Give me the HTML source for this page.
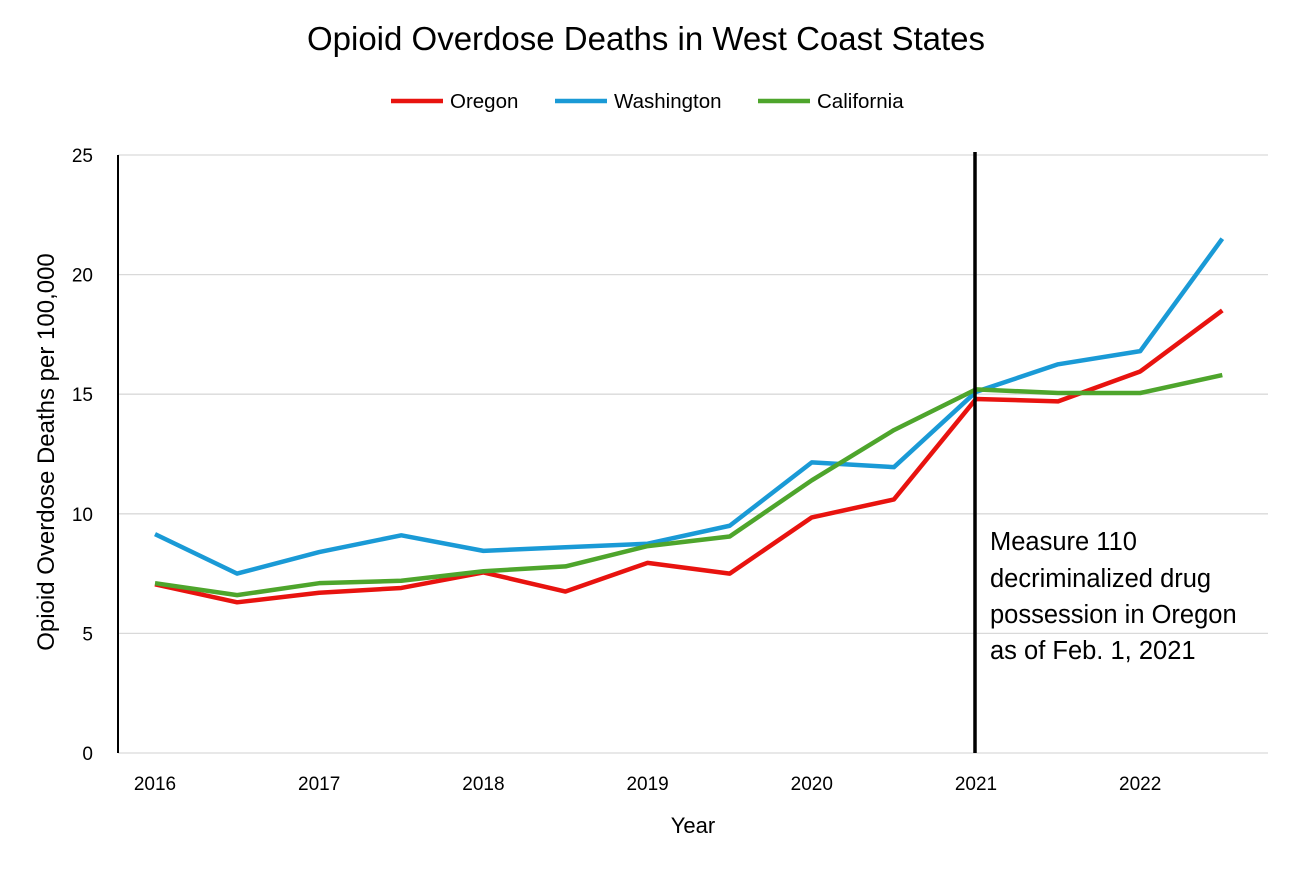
<!DOCTYPE html>
<html><head><meta charset="utf-8"><style>
body{margin:0;background:#fff;font-family:"Liberation Sans",sans-serif;}
</style></head><body>
<svg width="1294" height="868" xmlns="http://www.w3.org/2000/svg" font-family="Liberation Sans, sans-serif">
<text x="646" y="50" text-anchor="middle" font-size="33" fill="#000">Opioid Overdose Deaths in West Coast States</text>
<g id="legend"></g>
<g id="grid"></g>
<g id="series"></g>
<line x1="118" y1="155" x2="118" y2="753" stroke="#000" stroke-width="2"/>
<line x1="975" y1="152" x2="975" y2="753" stroke="#000" stroke-width="3.5"/>
<g font-size="25.5" fill="#000">
<text x="990" y="550">Measure 110</text>
<text x="990" y="587">decriminalized drug</text>
<text x="990" y="623">possession in Oregon</text>
<text x="990" y="659">as of Feb. 1, 2021</text>
</g>
<text x="693" y="833" text-anchor="middle" font-size="22">Year</text>
<text transform="translate(54,452) rotate(-90)" text-anchor="middle" font-size="24">Opioid Overdose Deaths per 100,000</text>
<g id="yticks"></g>
<g id="xticks"></g>
</svg>
<script>
const yearLabels=["2016","2017","2018","2019","2020","2021","2022"];
const yTicks=[0,5,10,15,20,25];
const oregon=[7.05,6.3,6.7,6.9,7.55,6.75,7.95,7.5,9.85,10.6,14.8,14.7,15.95,18.5];
const washington=[9.15,7.5,8.4,9.1,8.45,8.6,8.75,9.5,12.15,11.95,15.1,16.25,16.8,21.5];
const california=[7.1,6.6,7.1,7.2,7.6,7.8,8.65,9.05,11.4,13.5,15.2,15.05,15.05,15.8];
const NS="http://www.w3.org/2000/svg";
const xs=i=>155+i*82.1;
const ys=v=>753-v*23.92;
function mk(t,a,p){const e=document.createElementNS(NS,t);for(const k in a)e.setAttribute(k,a[k]);p.appendChild(e);return e;}
const grid=document.getElementById('grid'),yt=document.getElementById('yticks'),xt=document.getElementById('xticks');
yTicks.forEach(v=>{
 const l=mk('line',{x1:118,x2:1268,y1:ys(v),y2:ys(v),stroke:'#d9d9d9','stroke-width':1.3},grid);
 
 
 const t=mk('text',{x:93,y:ys(v)+7,'text-anchor':'end','font-size':19},yt);t.textContent=v;
 
 
});
yearLabels.forEach((y,i)=>{
 const t=mk('text',{x:xs(i*2),y:790,'text-anchor':'middle','font-size':19},xt);t.textContent=y;
 
 
});
const ser=[["Oregon",oregon,"#e8130f"],["Washington",washington,"#1a9ad6"],["California",california,"#4ea52c"]];
const sg=document.getElementById('series'),lg=document.getElementById('legend');
const lx=[391,555,758];
ser.forEach(([n,d,c],k)=>{
 const p=mk('polyline',{points:d.map((v,i)=>xs(i)+','+ys(v)).join(' '),fill:'none',stroke:c,'stroke-width':4.5,'stroke-linejoin':'round'},sg);
 
 
 const ll=mk('line',{x1:lx[k],x2:lx[k]+52,y1:101,y2:101,stroke:c,'stroke-width':4.5},lg);
 
 
 const t=mk('text',{x:lx[k]+59,y:108,'font-size':20.5},lg);t.textContent=n;
 
 
});
</script>
</body></html>
